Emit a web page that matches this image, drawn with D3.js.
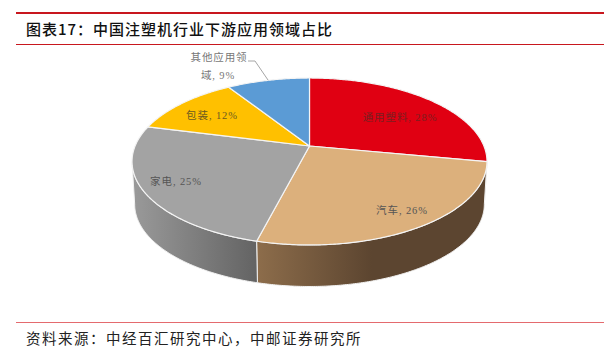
<!DOCTYPE html>
<html><head><meta charset="utf-8">
<script src="https://cdn.jsdelivr.net/npm/d3@7/dist/d3.min.js"></script>
<style>html,body{margin:0;padding:0;background:#fff}svg{display:block}</style></head>
<body><svg id="c" width="613" height="351"></svg>
<script>
const categories = ["通用塑料","汽车","家电","包装","其他应用领域"];
const shares = [28,26,25,12,9];
const topColors = ["#e00012","#dcb07c","#a3a3a3","#ffc000","#5b9bd5"];
const sideStart = ["#a00010","#8d6d4b","#9a9a9a","#b58800","#41719c"];
const sideEnd = ["#a00010","#5c4530","#636363","#b58800","#41719c"];
const titleText = "图表17\uFF1A中国注塑机行业下游应用领域占比";
const sourceText = "资料来源\uFF1A中经百汇研究中心\uFF0C中邮证券研究所";

const W=613,H=351;
const svg=d3.select("#c");
const defs=svg.append("defs");
const cx=309.5, cy=146, a=174.4, b=80.6, k=0.1856, depth=43;
const pie=d3.pie().sort(null).value(d=>d).startAngle(0).endAngle(2*Math.PI);
const arcs=pie(shares);
const proj=(th,dy=0,s=1)=>{const u=Math.sin(th),v=-Math.cos(th),w=1-k*v;
  return [cx+s*a*u/w, cy+dy+s*b*v/w];};
const line=d3.line();
const samples=(t0,t1,dy=0,s=1)=>{const n=Math.max(2,Math.ceil(Math.abs(t1-t0)/0.01));
  return d3.range(n+1).map(i=>proj(t0+(t1-t0)*i/n,dy,s));};

// rules
const red="#c8171e";
svg.append("rect").attr("x",16).attr("y",12).attr("width",588).attr("height",2).attr("fill",red);
svg.append("rect").attr("x",16).attr("y",44).attr("width",588).attr("height",1).attr("fill",red);
svg.append("rect").attr("x",16).attr("y",322).attr("width",588).attr("height",1).attr("fill","#e46a6e");

svg.append("text").attr("x",26).attr("y",35).text(titleText)
  .attr("font-family","'Noto Sans CJK SC'").attr("font-size",15).attr("font-weight",500).attr("letter-spacing",1).attr("fill","#111");
svg.append("text").attr("x",26).attr("y",344).text(sourceText)
  .attr("font-family","'Noto Sans CJK SC'").attr("font-size",14.5).attr("letter-spacing",1.5).attr("fill","#222");

// visible side wall
const thR=Math.acos(-k), thL=2*Math.PI-thR;
arcs.forEach((d,i)=>{
  const t0=Math.max(d.startAngle,thR), t1=Math.min(d.endAngle,thL);
  if(t1<=t0) return;
  const top=samples(t0,t1), bot=samples(t1,t0,depth,0.985);
  const xs=top.concat(bot).map(p=>p[0]);
  const id="side"+i;
  const lo=d3.min(xs),hi=d3.max(xs);
  const g=defs.append("linearGradient").attr("id",id).attr("gradientUnits","userSpaceOnUse")
    .attr("x1",lo).attr("x2",hi).attr("y1",0).attr("y2",0);
  if(i===1){
    g.append("stop").attr("offset",0).attr("stop-color",sideStart[i]);
    g.append("stop").attr("offset",0.5).attr("stop-color",sideEnd[i]);
    g.append("stop").attr("offset",1).attr("stop-color",sideEnd[i]);
  } else {
    g.append("stop").attr("offset",0).attr("stop-color",sideStart[i]);
    g.append("stop").attr("offset",1).attr("stop-color",sideEnd[i]);
  }
  svg.append("path").attr("d",line(top.concat(bot))+"Z").attr("fill",`url(#${id})`)
    .attr("stroke","#f2f2f2").attr("stroke-width",1);
});

// top face
arcs.forEach((d,i)=>{
  const pts=[[cx,cy]].concat(samples(d.startAngle,d.endAngle));
  svg.append("path").attr("d",line(pts)+"Z").attr("fill",topColors[i])
    .attr("stroke","#f4f4f4").attr("stroke-width",1.2).attr("stroke-linejoin","round");
});

// labels
const lab=(x,y,t,fill)=>{svg.append("text").attr("x",x).attr("y",y).attr("text-anchor","middle")
  .attr("font-family","'Liberation Serif','Noto Sans CJK SC'").attr("font-size",10.5).attr("letter-spacing",0.9).attr("fill",fill).text(t);};
const labelPos=[[400,121],[402,214],[176,185],[212,119],[219,61]];
const labelFill=["#7a1f20","#555","#555","#6b5a20","#777"];
arcs.forEach((d,i)=>{
  const t=categories[i]+", "+shares[i]+"%";
  if(i===4){
    lab(labelPos[i][0],labelPos[i][1],"其他应用领",labelFill[i]);
    lab(218,79,"域, 9%",labelFill[i]);
  } else lab(labelPos[i][0],labelPos[i][1],t,labelFill[i]);
});
// leader
const mid=(arcs[4].startAngle+arcs[4].endAngle)/2;
const end=proj(mid);
svg.append("path").attr("d",line([[248,61],[255,61],[end[0],end[1]]])).attr("fill","none").attr("stroke","#a6a6a6").attr("stroke-width",1);
</script></body></html>
